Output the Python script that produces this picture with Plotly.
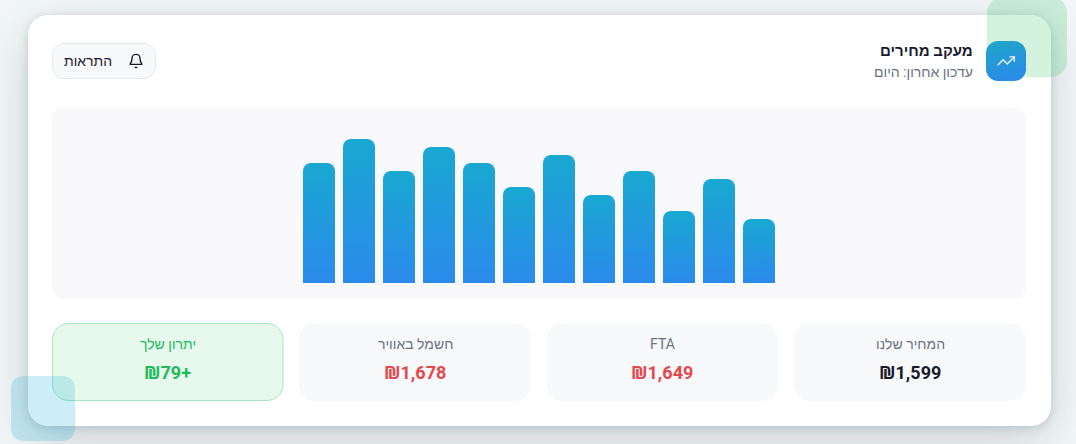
import plotly.graph_objects as go

W, H = 1076, 444

# ---- data ----
bar_categories = ["1", "2", "3", "4", "5", "6", "7", "8", "9", "10", "11", "12"]
bar_values = [75, 90, 70, 85, 75, 60, 80, 55, 70, 45, 65, 40]

title_text = "מעקב מחירים"
subtitle_text = "עדכון אחרון: היום"
button_text = "התראות"
stat_labels = ["המחיר שלנו", "FTA", "חשמל באוויר", "יתרון שלך"]
stat_values = ["₪1,599", "₪1,649", "₪1,678", "\u200f+₪79"]
stat_colors = ["#1a1a2e", "#e5484d", "#e5484d", "#22b85c"]
stat_label_colors = ["#6b7280", "#6b7280", "#6b7280", "#22b85c"]
stat_fills = ["#f8f9fb", "#f8f9fb", "#f8f9fb", "#e7f9ed"]
stat_lines = [None, None, None, "#a7e6c0"]
stat_boxes = [(794, 1026), (547, 778), (299, 531), (52.5, 283)]

FONT = "Roboto, 'Liberation Sans', sans-serif"
SHEKEL = "<span style=\"font-family:'Noto Sans'\">₪</span>"


def px(x):
    return round(x / W, 6)


def py(y):
    return round(1 - y / H, 6)


def rrect(x0, y0, x1, y1, r):
    k = r * 0.4477
    pts = [
        f"M{px(x0 + r)},{py(y0)}",
        f"L{px(x1 - r)},{py(y0)}",
        f"C{px(x1 - k)},{py(y0)} {px(x1)},{py(y0 + k)} {px(x1)},{py(y0 + r)}",
        f"L{px(x1)},{py(y1 - r)}",
        f"C{px(x1)},{py(y1 - k)} {px(x1 - k)},{py(y1)} {px(x1 - r)},{py(y1)}",
        f"L{px(x0 + r)},{py(y1)}",
        f"C{px(x0 + k)},{py(y1)} {px(x0)},{py(y1 - k)} {px(x0)},{py(y1 - r)}",
        f"L{px(x0)},{py(y0 + r)}",
        f"C{px(x0)},{py(y0 + k)} {px(x0 + k)},{py(y0)} {px(x0 + r)},{py(y0)}",
        "Z",
    ]
    return " ".join(pts)


def box(x0, y0, x1, y1, r, fill, line=None, layer="below", lw=1):
    return dict(
        type="path", xref="paper", yref="paper", layer=layer,
        path=rrect(x0, y0, x1, y1, r), fillcolor=fill,
        line=dict(color=line or "rgba(0,0,0,0)", width=lw if line else 0),
    )


def poly(points, color, width=1.5, layer="above"):
    d = "M" + " L".join(f"{px(a)},{py(b)}" for a, b in points)
    return dict(type="path", xref="paper", yref="paper", layer=layer, path=d,
                line=dict(color=color, width=width), fillcolor="rgba(0,0,0,0)")


def curve(d, color, width=1.3, layer="above"):
    return dict(type="path", xref="paper", yref="paper", layer=layer, path=d,
                line=dict(color=color, width=width), fillcolor="rgba(0,0,0,0)")


def label(x, y, text, size, color, bold=False):
    return dict(
        x=px(x), y=py(y), xref="paper", yref="paper", text=f"<b>{text}</b>" if bold else text,
        showarrow=False, xanchor="center", yanchor="middle",
        font=dict(family=FONT, size=size, color=color),
    )


def ralabel(x, y, text, size, color, bold=False):
    a = label(x, y, text, size, color, bold)
    a["xanchor"] = "right"
    return a


shapes = [
    box(28, 15, 1051, 426, 20, "#fffffe"),              # card (sentinel for shadow)
    box(52, 107, 1026, 299, 12, "#f9f9fb"),             # chart panel
    box(52.5, 43.5, 155.5, 78.5, 12, "#f8f9fb", "#e5e7eb"),  # button
]
for (x0, x1), f, l in zip(stat_boxes, stat_fills, stat_lines):
    shapes.append(box(x0, 323 if l is None else 323.5, x1, 401 if l is None else 400.5, 16, f, l))

# decorations sit above the card
shapes.append(box(987, -3, 1067, 77, 16, "rgba(34,197,94,0.2)", layer="above"))
shapes.append(box(11, 376, 75, 441, 12, "rgba(10,170,215,0.2)", layer="above"))

# icon tile (sentinel colour swapped for a gradient)
shapes.append(box(986, 41, 1026, 81, 12, "#010203", layer="above"))
ix, iy, s = 996, 51, 20 / 24
shapes.append(poly([(ix + s * a, iy + s * b) for a, b in [(22, 7), (13.5, 15.5), (8.5, 10.5), (2, 17)]], "rgba(255,255,255,0.9)", 1.4))
shapes.append(poly([(ix + s * a, iy + s * b) for a, b in [(16, 7), (22, 7), (22, 13)]], "rgba(255,255,255,0.9)", 1.4))

# bell icon
bx, by, b = 128, 53, 16 / 24
def P(a, c):
    return f"{px(bx + b * a)},{py(by + b * c)}"
bell = (f"M{P(6, 8)} C{P(6, 4.7)} {P(8.7, 2)} {P(12, 2)} C{P(15.3, 2)} {P(18, 4.7)} {P(18, 8)} "
        f"C{P(18, 12.5)} {P(19.2, 14.5)} {P(20.7, 16)} L{P(20.7, 17)} L{P(3.3, 17)} L{P(3.3, 16)} "
        f"C{P(4.8, 14.5)} {P(6, 12.5)} {P(6, 8)} Z")
shapes.append(curve(bell, "#1a1a2e", 1.4))
shapes.append(curve(f"M{P(10.3, 21)} C{P(11, 22)} {P(13, 22)} {P(13.7, 21)}", "#1a1a2e", 1.4))

annotations = [
    ralabel(975, 50.5, title_text, 15, "#1a1a2e", True),
    ralabel(975, 72, subtitle_text, 14, "#6b7280"),
    label(87.5, 61, button_text, 14, "#1a1a2e"),
]
for (x0, x1), lab, val, c, lc in zip(stat_boxes, stat_labels, stat_values, stat_colors, stat_label_colors):
    cx = (x0 + x1) / 2
    annotations.append(label(cx, 344, lab, 14, lc))
    annotations.append(label(cx, 372, val.replace("₪", SHEKEL), 18, c, True))

fig = go.Figure(
    go.Bar(
        x=bar_categories, y=bar_values, width=0.8,
        marker=dict(color="#2b8beb", line=dict(width=0)),
        hoverinfo="skip",
    )
)

# 40 px per category, first bar centred at x=319; 1.6 px per value unit, baseline at y=283
fig.update_layout(
    width=W, height=H, margin=dict(l=0, r=0, t=0, b=0, pad=0, autoexpand=False),
    paper_bgcolor="#f3f7f8", plot_bgcolor="rgba(0,0,0,0)",
    showlegend=False, barcornerradius=8, dragmode=False,
    xaxis=dict(domain=[px(52), px(1026)], range=[(52 - 319) / 40, (1026 - 319) / 40],
               type="category", visible=False, fixedrange=True),
    yaxis=dict(domain=[py(283), py(107)], range=[0, (283 - 107) / 1.6], visible=False, fixedrange=True),
    shapes=shapes, annotations=annotations,
    font=dict(family=FONT),
)

post = """
document.documentElement.style.margin='0';
document.body.style.margin='0';
document.body.style.overflow='hidden';
var gd=document.querySelector('.js-plotly-plot');
var svg=gd.querySelector('svg.main-svg');
var ns='http://www.w3.org/2000/svg';
var defs=svg.querySelector('defs');
function grad(id,x2,y2,a,b){
  var g=document.createElementNS(ns,'linearGradient');
  g.setAttribute('id',id);g.setAttribute('x1','0');g.setAttribute('y1','0');
  g.setAttribute('x2',x2);g.setAttribute('y2',y2);
  [[0,a],[1,b]].forEach(function(s){var t=document.createElementNS(ns,'stop');
    t.setAttribute('offset',s[0]);t.setAttribute('stop-color',s[1]);g.appendChild(t);});
  defs.appendChild(g);
}
grad('barGrad',0,1,'#19a8d2','#2b8aeb');
grad('tileGrad',0.3,1,'#1fa8c8','#2a8ce6');
gd.querySelectorAll('.bars .point path').forEach(function(p){p.style.fill='url(#barGrad)';});
gd.querySelectorAll('.shapelayer path').forEach(function(p){
  var f=p.style.fill;
  if(f==='rgb(1, 2, 3)'){p.style.fill='url(#tileGrad)';}
  if(f==='rgb(255, 255, 254)'){p.style.fill='#ffffff';
    p.style.filter='drop-shadow(0 14px 26px rgba(30,50,60,0.17)) drop-shadow(0 2px 4px rgba(30,50,60,0.16))';}
});
"""

fig.write_html("out.html", post_script=post, config=dict(displayModeBar=False, staticPlot=True))
